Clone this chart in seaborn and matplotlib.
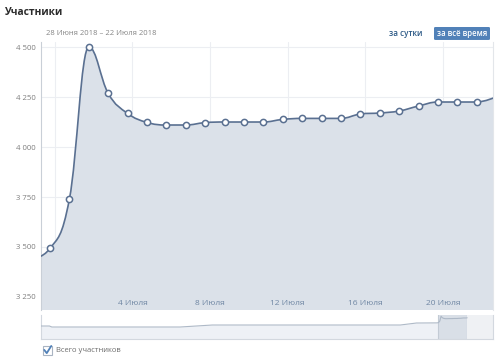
import numpy as np
import pandas as pd
import matplotlib
matplotlib.use('Agg')
import matplotlib.pyplot as plt
import matplotlib.dates as mdates
import matplotlib.transforms as mtransforms
from matplotlib.path import Path
from matplotlib.patches import PathPatch, Rectangle, FancyBboxPatch
from matplotlib.lines import Line2D
import seaborn as sns

# участники по дням (точки стоят около 18:00)
dates = pd.date_range('2018-06-28 18:00', '2018-07-22 18:00', freq='D')
members = [3440, 3493, 3740, 4500, 4268, 4168, 4123, 4110, 4110, 4122,
           4125, 4125, 4125, 4138, 4143, 4143, 4143, 4165, 4170, 4180,
           4205, 4225, 4225, 4225, 4250]

tick_dates = pd.to_datetime(['2018-06-30', '2018-07-04', '2018-07-08',
                             '2018-07-12', '2018-07-16', '2018-07-20'])
tick_labels = ['', '4 Июля', '8 Июля', '12 Июля', '16 Июля', '20 Июля']
y_ticks = [3250, 3500, 3750, 4000, 4250, 4500]
y_labels = ['3 250', '3 500', '3 750', '4 000', '4 250', '4 500']

# история для навигатора (за всё время)
hist_dates = pd.to_datetime(['2017-08-14', '2017-08-21', '2017-08-23', '2017-12-04',
                             '2017-12-30', '2018-05-30', '2018-06-12'])
hist_members = [2940, 2940, 2780, 2780, 3100, 3100, 3420]

LINE = '#5a7091'
FILL = '#dbe1e9'
GRID = '#eceef2'

view_start = pd.Timestamp('2018-06-29 06:50')
view_end = pd.Timestamp('2018-07-22 14:10')
nav_start = pd.Timestamp('2017-08-14 06:00')
nav_end = pd.Timestamp('2018-08-12 12:00')


def spline_verts(x, y):
    # сглаживание как в highcharts (spline)
    n = len(x)
    lc = [(x[i], y[i]) for i in range(n)]
    rc = list(lc)
    sm, den = 1.5, 2.5
    for i in range(1, n - 1):
        lx = (sm * x[i] + x[i - 1]) / den
        ly = (sm * y[i] + y[i - 1]) / den
        rx = (sm * x[i] + x[i + 1]) / den
        ry = (sm * y[i] + y[i + 1]) / den
        corr = (ry - ly) * (rx - x[i]) / (rx - lx) + y[i] - ry
        ly += corr
        ry += corr
        if ly > y[i - 1] and ly > y[i]:
            ly = max(y[i - 1], y[i]); ry = 2 * y[i] - ly
        elif ly < y[i - 1] and ly < y[i]:
            ly = min(y[i - 1], y[i]); ry = 2 * y[i] - ly
        if ry > y[i + 1] and ry > y[i]:
            ry = max(y[i + 1], y[i]); ly = 2 * y[i] - ry
        elif ry < y[i + 1] and ry < y[i]:
            ry = min(y[i + 1], y[i]); ly = 2 * y[i] - ry
        lc[i] = (lx, ly)
        rc[i] = (rx, ry)
    verts = [(x[0], y[0])]
    codes = [Path.MOVETO]
    for i in range(1, n):
        verts += [rc[i - 1], lc[i], (x[i], y[i])]
        codes += [Path.CURVE4] * 3
    return verts, codes


sns.set_theme(style='white')
plt.rcParams['font.family'] = ['Open Sans', 'DejaVu Sans']

fig = plt.figure(figsize=(5, 3.6), dpi=100)
ax = fig.add_axes([0.082, 0.1389, 0.904, 0.7444])

xn = mdates.date2num(dates)
verts, codes = spline_verts(list(xn), list(members))
area = Path(verts + [(xn[-1], 2000), (xn[0], 2000), (xn[0], members[0])],
            codes + [Path.LINETO, Path.LINETO, Path.CLOSEPOLY])
ax.add_patch(PathPatch(area, facecolor=FILL, edgecolor='none', zorder=1))
ax.add_patch(PathPatch(Path(verts, codes), facecolor='none', edgecolor=LINE,
                       lw=1.2, zorder=3))
sns.scatterplot(x=dates[1:-1], y=members[1:-1], ax=ax, s=20, color='white',
                edgecolor=LINE, linewidth=1.1, zorder=4, legend=False)

ax.set_xlim(mdates.date2num(view_start), mdates.date2num(view_end))
ax.set_ylim(3185, 4525)
ax.set_xticks(mdates.date2num(tick_dates))
ax.set_xticklabels([])
ax.set_yticks(y_ticks)
ax.set_yticklabels(y_labels)
ax.grid(True, color=GRID, lw=0.8, zorder=0)
ax.set_axisbelow(True)
ax.tick_params(axis='x', length=0)
ax.tick_params(axis='y', length=0, pad=3.8, labelsize=5.6, labelcolor='#7f7f7f')

# подписи дат внутри области графика, поверх заливки
trans = mtransforms.blended_transform_factory(ax.transData, ax.transAxes)
for d, lbl in zip(mdates.date2num(tick_dates), tick_labels):
    ax.text(d, 0.012, lbl, transform=trans, fontsize=6, color='#6f86a3',
            ha='center', va='bottom', zorder=6)

ax.set_xlabel('')
ax.set_ylabel('')
for s in ['top', 'bottom']:
    ax.spines[s].set_visible(False)
ax.spines['left'].set_color('#c9cfd7')
ax.spines['left'].set_linewidth(0.8)
ax.spines['right'].set_color('#e3e6ea')
ax.spines['right'].set_linewidth(0.8)

# навигатор
nav = fig.add_axes([0.082, 0.0583, 0.904, 0.0667])
nav_x = list(mdates.date2num(hist_dates)) + list(xn)
nav_y = hist_members + members
nav.fill_between(nav_x, nav_y, 0, color='#eef1f6', lw=0, zorder=1)
v0, v1 = mdates.date2num(view_start), mdates.date2num(view_end)
nav.add_patch(Rectangle((v0, 0), v1 - v0, 6000, facecolor='#d9dfe7',
                        edgecolor='#c3cbd5', lw=0.8, zorder=2))
nav.add_patch(Rectangle((v1, 0), mdates.date2num(nav_end) - v1, 6000,
                        facecolor='#eff1f4', edgecolor='none', zorder=2))
nav.plot(nav_x, nav_y, color='#aeb9c7', lw=0.8, zorder=3)
nav.set_xlim(mdates.date2num(nav_start), mdates.date2num(nav_end))
nav.set_ylim(860, 4700)
nav.set_xticks([])
nav.set_yticks([])
nav.spines['top'].set_visible(False)
for s in ['left', 'right', 'bottom']:
    nav.spines[s].set_color('#d3d8df')
    nav.spines[s].set_linewidth(0.8)

# заголовки и кнопки
fig.text(0.01, 0.964, 'Участники', fontsize=7.4, fontweight='bold',
         color='#2b2b2b', va='center', ha='left')
fig.text(0.092, 0.908, '28 Июня 2018 – 22 Июля 2018', fontsize=5.5,
         color='#858585', va='center', ha='left')
fig.text(0.812, 0.906, 'за сутки', fontsize=5.8, fontweight='semibold',
         color='#2a5885', va='center', ha='center')
fig.patches.append(FancyBboxPatch((0.868, 0.889), 0.112, 0.036,
                                  boxstyle='round,pad=0,rounding_size=0.003',
                                  transform=fig.transFigure, facecolor='#5181b8',
                                  edgecolor='none'))
fig.text(0.924, 0.907, 'за всё время', fontsize=5.6, fontweight='semibold',
         color='white', va='center', ha='center')

# чекбокс
fig.patches.append(Rectangle((0.086, 0.0139), 0.018, 0.025, transform=fig.transFigure,
                             facecolor='white', edgecolor='#a9b4c2', lw=0.8))
fig.add_artist(Line2D([0.0885, 0.0935, 0.1025], [0.028, 0.019, 0.039],
                      transform=fig.transFigure, color='#5181b8', lw=1.3))
fig.text(0.112, 0.025, 'Всего участников', fontsize=5.5, color='#6d6d6d',
         va='center', ha='left')

fig.savefig('out.png', dpi=100)
